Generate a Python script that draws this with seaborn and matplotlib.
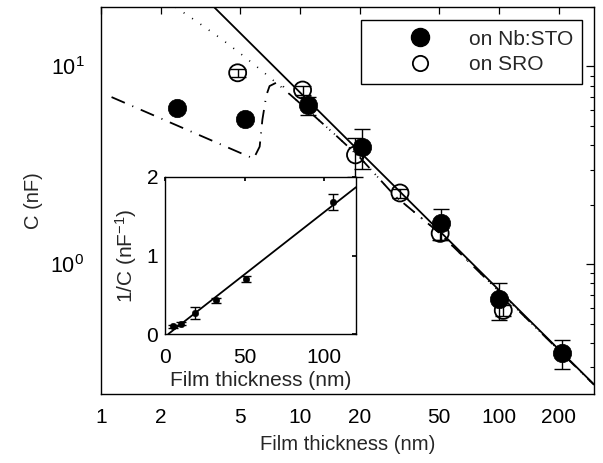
import numpy as np
import pandas as pd
import matplotlib
matplotlib.use("Agg")
import matplotlib.pyplot as plt
import seaborn as sns
from matplotlib.ticker import FixedLocator, FixedFormatter, NullFormatter, NullLocator
from matplotlib.lines import Line2D

# ---------------- data ----------------
# main plot: capacitance vs film thickness
t_nbsto = [2.4, 5.27, 11.0, 20.6, 51.0, 100.0, 207.0]
c_nbsto = [6.15, 5.4, 6.37, 3.93, 1.62, 0.662, 0.354]
e_nbsto = [0.0, 0.0, 0.66, 0.9, 0.29, 0.14, 0.06]

t_sro = [4.86, 10.3, 19.0, 31.8, 50.6, 105.0]
c_sro = [9.29, 7.6, 3.57, 2.29, 1.43, 0.583]
e_sro = [0.45, 0.4, 0.8, 0.12, 0.1, 0.035]

# model curves
fit_t = [3.64, 300.0]
fit_c = [20.3, 0.246]
dot_t = [2.36, 3.0, 4.0, 5.0, 6.4, 8.0, 10.0, 15.0, 20.0, 30.0, 50.0, 100.0, 300.0]
dot_c = [20.0, 17.0, 13.85, 11.66, 9.55, 7.91, 6.51, 4.52, 3.46, 2.21, 1.44, 0.727, 0.245]
dd_t = [1.13, 5.15, 5.85, 6.27, 6.47, 6.77, 7.03, 7.6, 8.2, 8.86, 10.0, 15.0, 20.0, 30.0, 50.0, 100.0, 300.0]
dd_c = [7.0, 3.61, 3.42, 3.93, 5.38, 7.14, 7.96, 8.28, 7.96, 7.25, 6.51, 4.52, 3.46, 2.21, 1.44, 0.727, 0.245]

# inset: 1/C vs thickness
ins_t = [4.8, 10.1, 19.1, 31.9, 50.9, 105.4]
ins_y = [0.10, 0.13, 0.27, 0.43, 0.70, 1.685]
ins_e = [0.02, 0.02, 0.08, 0.03, 0.04, 0.10]
ins_fit_t = [2.1, 120.0]
ins_fit_y = [0.0, 1.87]

x_ticks = [1, 2, 5, 10, 20, 50, 100, 200]
x_ticklabels = ["1", "2", "5", "10", "20", "50", "100", "200"]
y_ticks = [1, 10]
y_ticklabels = ["$10^{0}$", "$10^{1}$"]
legend_labels = ["on Nb:STO", "on SRO"]

# ---------------- style ----------------
sns.set_theme(style="white")
plt.rcParams['font.family'] = ['Liberation Sans', 'DejaVu Sans']
plt.rcParams['mathtext.fontset'] = 'custom'
plt.rcParams['mathtext.rm'] = 'Liberation Sans'
plt.rcParams['mathtext.it'] = 'Liberation Sans'
plt.rcParams['axes.edgecolor'] = 'black'
plt.rcParams['axes.linewidth'] = 1.0

FS = 15

fig = plt.figure(figsize=(6.03, 4.63), dpi=100)
ax = fig.add_axes([101 / 603, (463 - 394) / 463, (594 - 101) / 603, (394 - 7) / 463])

df_fit = pd.DataFrame({"t": fit_t, "c": fit_c})
df_dot = pd.DataFrame({"t": dot_t, "c": dot_c})
df_dd = pd.DataFrame({"t": dd_t, "c": dd_c})

sns.lineplot(data=df_fit, x="t", y="c", ax=ax, color="black", lw=1.3, sort=False, estimator=None)
sns.lineplot(data=df_dot, x="t", y="c", ax=ax, color="black", lw=1.2, sort=False, estimator=None,
             linestyle=(0, (0.6, 5.5)))
sns.lineplot(data=df_dd, x="t", y="c", ax=ax, color="black", lw=1.3, sort=False, estimator=None,
             linestyle=(0, (8, 4.5, 0.6, 4.5)))

# error bars
ax.errorbar(t_sro, c_sro, yerr=e_sro, fmt="none", ecolor="black", elinewidth=1.0, capsize=6, capthick=1.0, zorder=3)
ax.errorbar(t_nbsto, c_nbsto, yerr=e_nbsto, fmt="none", ecolor="black", elinewidth=1.0, capsize=6, capthick=1.0, zorder=3)

df_sro = pd.DataFrame({"t": t_sro, "c": c_sro})
df_nb = pd.DataFrame({"t": t_nbsto, "c": c_nbsto})
sns.scatterplot(data=df_sro, x="t", y="c", ax=ax, s=150, facecolor="none", edgecolor="black",
                linewidth=1.3, zorder=4)
sns.scatterplot(data=df_nb, x="t", y="c", ax=ax, s=175, color="black", edgecolor="black",
                linewidth=0.5, zorder=5)

ax.set_xscale("log")
ax.set_yscale("log")
ax.set_xlim(1, 300)
ax.set_ylim(0.22, 20)
ax.xaxis.set_major_locator(FixedLocator(x_ticks))
ax.xaxis.set_major_formatter(FixedFormatter(x_ticklabels))
ax.xaxis.set_minor_locator(NullLocator())
ax.yaxis.set_major_locator(FixedLocator(y_ticks))
ax.yaxis.set_major_formatter(FixedFormatter(y_ticklabels))
ax.yaxis.set_minor_locator(FixedLocator([m * d for d in (0.1, 1, 10) for m in range(2, 10)]))
ax.yaxis.set_minor_formatter(NullFormatter())
ax.tick_params(which="both", direction="in", top=True, right=True, colors="black")
ax.tick_params(axis="x", which="major", length=5, width=0.9, labelsize=FS, pad=10)
ax.tick_params(axis="y", which="major", length=6, width=0.9, labelsize=FS + 0.5, pad=12)
ax.tick_params(axis="y", which="minor", length=3, width=0.8)
ax.set_xlabel("Film thickness (nm)", fontsize=FS - 0.4, labelpad=6)
ax.set_ylabel("C (nF)", fontsize=FS - 0.5, labelpad=5)

handles = [
    Line2D([], [], marker="o", linestyle="none", markersize=13, markerfacecolor="black", markeredgecolor="black"),
    Line2D([], [], marker="o", linestyle="none", markersize=11, markerfacecolor="none", markeredgecolor="black",
           markeredgewidth=1.3),
]
leg = ax.legend(handles, legend_labels, loc="upper right", bbox_to_anchor=(0.976, 0.966), fontsize=FS,
                frameon=True, fancybox=False, framealpha=1, edgecolor="black", borderpad=0.45,
                handlelength=4.7, handletextpad=0.0, labelspacing=0.33, borderaxespad=0)
leg.get_frame().set_linewidth(1.0)

# ---------------- inset ----------------
ins = fig.add_axes([165 / 603, (463 - 334) / 463, (356 - 165) / 603, (334 - 177) / 463])
ins.set_facecolor("white")
df_ifit = pd.DataFrame({"t": ins_fit_t, "y": ins_fit_y})
sns.lineplot(data=df_ifit, x="t", y="y", ax=ins, color="black", lw=1.3, sort=False, estimator=None)
ins.errorbar(ins_t, ins_y, yerr=ins_e, fmt="none", ecolor="black", elinewidth=1.0, capsize=3.5, capthick=1.0)
df_ins = pd.DataFrame({"t": ins_t, "y": ins_y})
sns.scatterplot(data=df_ins, x="t", y="y", ax=ins, s=22, color="black", edgecolor="black", zorder=4)
ins.set_xlim(0, 120)
ins.set_ylim(0, 2)
ins.set_xticks([0, 50, 100])
ins.set_yticks([0, 1, 2])
ins.tick_params(which="both", direction="in", top=True, right=True, length=3, colors="black",
                labelsize=FS)
ins.tick_params(axis="x", pad=10)
ins.tick_params(axis="y", pad=5)
ins.set_xlabel("Film thickness (nm)", fontsize=FS, labelpad=3)
ins.set_ylabel("1/C (nF$^{-1}$)", fontsize=FS, labelpad=5)
for s in ins.spines.values():
    s.set_color("black")
    s.set_linewidth(1.0)

fig.savefig("out.png", dpi=100)
